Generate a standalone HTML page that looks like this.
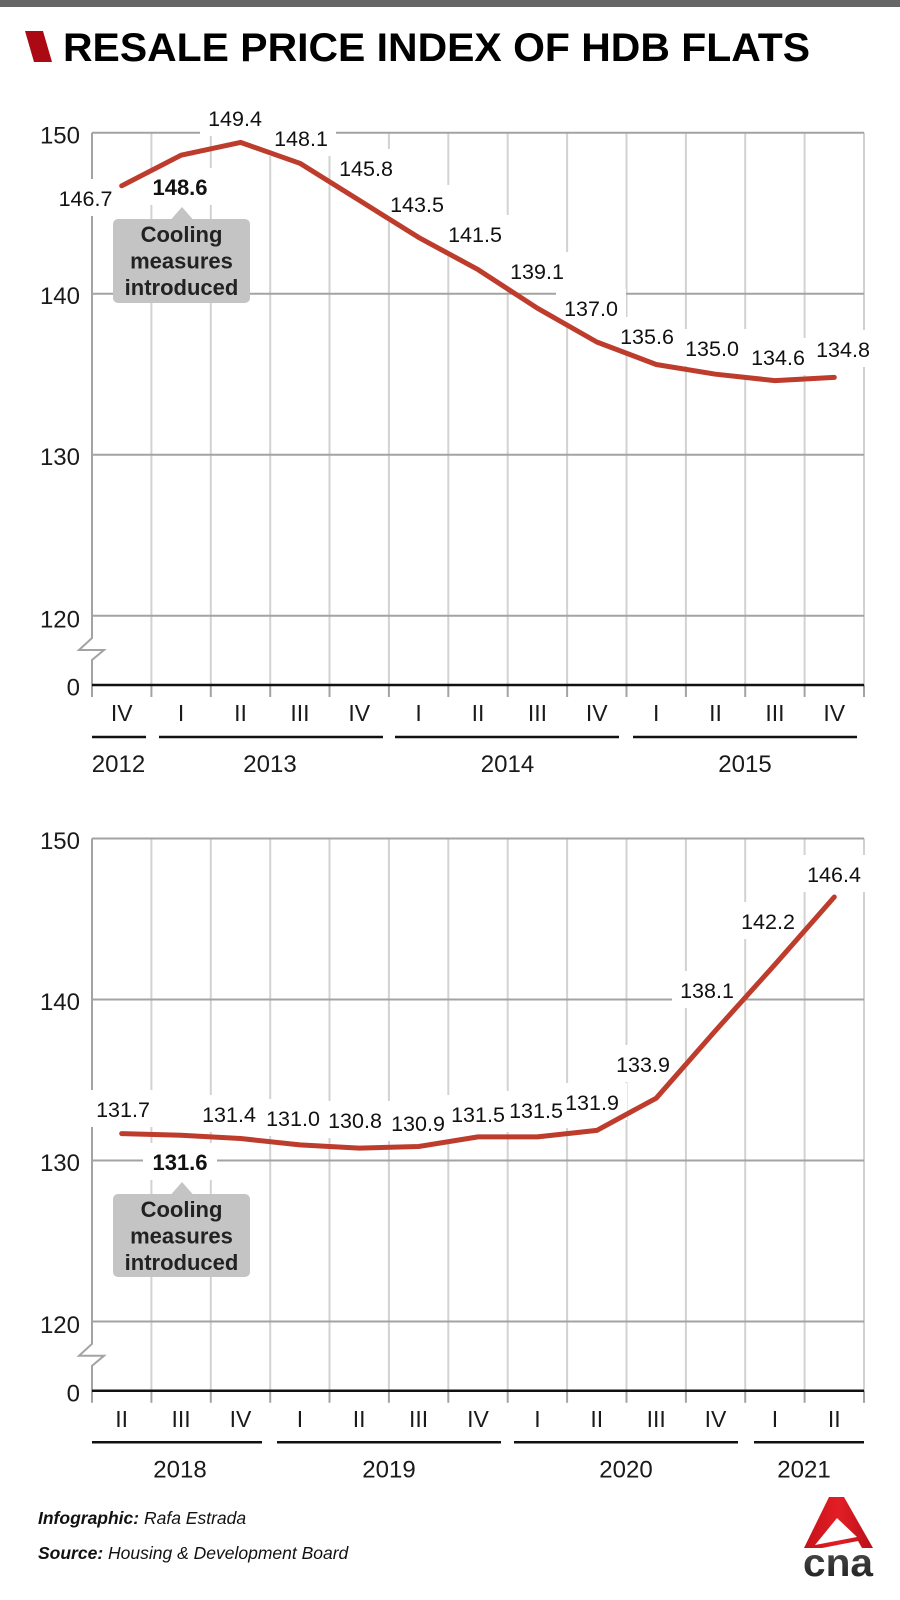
<!DOCTYPE html>
<html>
<head>
<meta charset="utf-8">
<style>
  html,body{margin:0;padding:0;background:#fff;}
  svg{display:block;}
  text{font-family:"Liberation Sans", Arial, sans-serif;}
</style>
</head>
<body>
<svg width="900" height="1600" viewBox="0 0 900 1600" xmlns="http://www.w3.org/2000/svg">
  <rect x="0" y="0" width="900" height="1600" fill="#fff"/>
  <!-- top bar -->
  <rect x="0" y="0" width="900" height="7" fill="#666"/>
  <!-- title -->
  <polygon points="25,31 43,31 52,62 34,62" fill="#ab0a14"/>
  <text x="63" y="61" font-size="40" font-weight="bold" fill="#000" textLength="747" lengthAdjust="spacingAndGlyphs">RESALE PRICE INDEX OF HDB FLATS</text>

  <!-- ================= TOP CHART ================= -->
  <g stroke="#d2d2d2" stroke-width="2">
    <line x1="151.4" y1="132.7" x2="151.4" y2="685"/>
    <line x1="210.8" y1="132.7" x2="210.8" y2="685"/>
    <line x1="270.2" y1="132.7" x2="270.2" y2="685"/>
    <line x1="329.5" y1="132.7" x2="329.5" y2="685"/>
    <line x1="388.9" y1="132.7" x2="388.9" y2="685"/>
    <line x1="448.3" y1="132.7" x2="448.3" y2="685"/>
    <line x1="507.7" y1="132.7" x2="507.7" y2="685"/>
    <line x1="567.1" y1="132.7" x2="567.1" y2="685"/>
    <line x1="626.5" y1="132.7" x2="626.5" y2="685"/>
    <line x1="685.9" y1="132.7" x2="685.9" y2="685"/>
    <line x1="745.2" y1="132.7" x2="745.2" y2="685"/>
    <line x1="804.6" y1="132.7" x2="804.6" y2="685"/>
    <line x1="864" y1="132.7" x2="864" y2="685"/>
  </g>
  <g stroke="#a3a3a3" stroke-width="2">
    <line x1="92" y1="132.7" x2="864" y2="132.7"/>
    <line x1="92" y1="293.7" x2="864" y2="293.7"/>
    <line x1="92" y1="454.7" x2="864" y2="454.7"/>
    <line x1="92" y1="615.7" x2="864" y2="615.7"/>
    <line x1="151.4" y1="685" x2="151.4" y2="697"/>
    <line x1="210.8" y1="685" x2="210.8" y2="697"/>
    <line x1="270.2" y1="685" x2="270.2" y2="697"/>
    <line x1="329.5" y1="685" x2="329.5" y2="697"/>
    <line x1="388.9" y1="685" x2="388.9" y2="697"/>
    <line x1="448.3" y1="685" x2="448.3" y2="697"/>
    <line x1="507.7" y1="685" x2="507.7" y2="697"/>
    <line x1="567.1" y1="685" x2="567.1" y2="697"/>
    <line x1="626.5" y1="685" x2="626.5" y2="697"/>
    <line x1="685.9" y1="685" x2="685.9" y2="697"/>
    <line x1="745.2" y1="685" x2="745.2" y2="697"/>
    <line x1="804.6" y1="685" x2="804.6" y2="697"/>
    <line x1="864" y1="685" x2="864" y2="697"/>
  </g>
  <path d="M92,132.7 V638 L79,650 H104 L92,660 V697" fill="none" stroke="#a3a3a3" stroke-width="2"/>
  <line x1="92" y1="685" x2="864" y2="685" stroke="#111" stroke-width="2.5"/>

  <!-- y labels top -->
  <g font-size="24" fill="#1a1a1a" text-anchor="end">
    <text x="80" y="143.3">150</text>
    <text x="80" y="304.2">140</text>
    <text x="80" y="465.2">130</text>
    <text x="80" y="627.3">120</text>
    <text x="80" y="695.5">0</text>
  </g>

  <!-- label backgrounds top -->
  <g fill="#fff">
    <rect x="50.5" y="179" width="70" height="37"/>
    <rect x="143" y="168" width="74" height="37"/>
    <rect x="200" y="99" width="70" height="37"/>
    <rect x="266" y="119" width="70" height="37"/>
    <rect x="331" y="149" width="70" height="37"/>
    <rect x="382" y="185" width="70" height="37"/>
    <rect x="440" y="215" width="70" height="37"/>
    <rect x="502" y="252" width="70" height="37"/>
    <rect x="556" y="289" width="70" height="37"/>
    <rect x="612" y="317" width="70" height="37"/>
    <rect x="677" y="329" width="70" height="37"/>
    <rect x="743" y="338" width="70" height="37"/>
    <rect x="808" y="330" width="70" height="37"/>
  </g>

  <!-- cooling box top -->
  <rect x="113" y="219" width="137" height="84" rx="5" fill="#c4c4c4"/>
  <polygon points="171,219.5 182,207 193,219.5" fill="#c4c4c4"/>
  <g font-size="22" font-weight="bold" fill="#222" text-anchor="middle">
    <text x="181.5" y="242">Cooling</text>
    <text x="181.5" y="268.5">measures</text>
    <text x="181.5" y="295">introduced</text>
  </g>

  <!-- line top -->
  <polyline fill="none" stroke="#bd3c2c" stroke-width="5" stroke-linejoin="round" stroke-linecap="round"
    points="121.7,185.8 181.1,155.2 240.5,142.4 299.9,163.3 359.2,200.3 418.6,237.4 478.0,269.6 537.4,308.2 596.8,342.0 656.2,364.5 715.5,374.2 774.9,380.6 834.3,377.4"/>

  <!-- data labels top -->
  <g font-size="21.5" fill="#111" text-anchor="middle">
    <text x="85.5" y="206">146.7</text>
    <text x="180" y="195" font-weight="bold" font-size="22">148.6</text>
    <text x="235" y="126">149.4</text>
    <text x="301" y="146">148.1</text>
    <text x="366" y="176">145.8</text>
    <text x="417" y="212">143.5</text>
    <text x="475" y="242">141.5</text>
    <text x="537" y="279">139.1</text>
    <text x="591" y="316">137.0</text>
    <text x="647" y="344">135.6</text>
    <text x="712" y="356">135.0</text>
    <text x="778" y="365">134.6</text>
    <text x="843" y="357">134.8</text>
  </g>

  <!-- quarter labels top -->
  <g font-size="23" fill="#1a1a1a" text-anchor="middle">
    <text x="121.7" y="721">IV</text>
    <text x="181.1" y="721">I</text>
    <text x="240.5" y="721">II</text>
    <text x="299.9" y="721">III</text>
    <text x="359.2" y="721">IV</text>
    <text x="418.6" y="721">I</text>
    <text x="478.0" y="721">II</text>
    <text x="537.4" y="721">III</text>
    <text x="596.8" y="721">IV</text>
    <text x="656.2" y="721">I</text>
    <text x="715.5" y="721">II</text>
    <text x="774.9" y="721">III</text>
    <text x="834.3" y="721">IV</text>
  </g>
  <g stroke="#111" stroke-width="2.5">
    <line x1="92" y1="737" x2="146" y2="737"/>
    <line x1="159" y1="737" x2="383" y2="737"/>
    <line x1="395" y1="737" x2="619" y2="737"/>
    <line x1="633" y1="737" x2="857" y2="737"/>
  </g>
  <g font-size="24" fill="#1a1a1a" text-anchor="middle">
    <text x="118.5" y="772">2012</text>
    <text x="270" y="772">2013</text>
    <text x="507.5" y="772">2014</text>
    <text x="745" y="772">2015</text>
  </g>

  <!-- ================= BOTTOM CHART ================= -->
  <g transform="translate(0,705.8)">
    <g stroke="#d2d2d2" stroke-width="2">
      <line x1="151.4" y1="132.7" x2="151.4" y2="685"/>
      <line x1="210.8" y1="132.7" x2="210.8" y2="685"/>
      <line x1="270.2" y1="132.7" x2="270.2" y2="685"/>
      <line x1="329.5" y1="132.7" x2="329.5" y2="685"/>
      <line x1="388.9" y1="132.7" x2="388.9" y2="685"/>
      <line x1="448.3" y1="132.7" x2="448.3" y2="685"/>
      <line x1="507.7" y1="132.7" x2="507.7" y2="685"/>
      <line x1="567.1" y1="132.7" x2="567.1" y2="685"/>
      <line x1="626.5" y1="132.7" x2="626.5" y2="685"/>
      <line x1="685.9" y1="132.7" x2="685.9" y2="685"/>
      <line x1="745.2" y1="132.7" x2="745.2" y2="685"/>
      <line x1="804.6" y1="132.7" x2="804.6" y2="685"/>
      <line x1="864" y1="132.7" x2="864" y2="685"/>
    </g>
    <g stroke="#a3a3a3" stroke-width="2">
      <line x1="92" y1="132.7" x2="864" y2="132.7"/>
      <line x1="92" y1="293.7" x2="864" y2="293.7"/>
      <line x1="92" y1="454.7" x2="864" y2="454.7"/>
      <line x1="92" y1="615.7" x2="864" y2="615.7"/>
      <line x1="151.4" y1="685" x2="151.4" y2="697"/>
      <line x1="210.8" y1="685" x2="210.8" y2="697"/>
      <line x1="270.2" y1="685" x2="270.2" y2="697"/>
      <line x1="329.5" y1="685" x2="329.5" y2="697"/>
      <line x1="388.9" y1="685" x2="388.9" y2="697"/>
      <line x1="448.3" y1="685" x2="448.3" y2="697"/>
      <line x1="507.7" y1="685" x2="507.7" y2="697"/>
      <line x1="567.1" y1="685" x2="567.1" y2="697"/>
      <line x1="626.5" y1="685" x2="626.5" y2="697"/>
      <line x1="685.9" y1="685" x2="685.9" y2="697"/>
      <line x1="745.2" y1="685" x2="745.2" y2="697"/>
      <line x1="804.6" y1="685" x2="804.6" y2="697"/>
      <line x1="864" y1="685" x2="864" y2="697"/>
    </g>
    <path d="M92,132.7 V638 L79,650 H104 L92,660 V697" fill="none" stroke="#a3a3a3" stroke-width="2"/>
    <line x1="92" y1="685" x2="864" y2="685" stroke="#111" stroke-width="2.5"/>
    <g font-size="24" fill="#1a1a1a" text-anchor="end">
      <text x="80" y="143.3">150</text>
      <text x="80" y="304.2">140</text>
      <text x="80" y="465.2">130</text>
      <text x="80" y="627.3">120</text>
      <text x="80" y="695.5">0</text>
    </g>
    <g font-size="23" fill="#1a1a1a" text-anchor="middle">
      <text x="121.7" y="721">II</text>
      <text x="181.1" y="721">III</text>
      <text x="240.5" y="721">IV</text>
      <text x="299.9" y="721">I</text>
      <text x="359.2" y="721">II</text>
      <text x="418.6" y="721">III</text>
      <text x="478.0" y="721">IV</text>
      <text x="537.4" y="721">I</text>
      <text x="596.8" y="721">II</text>
      <text x="656.2" y="721">III</text>
      <text x="715.5" y="721">IV</text>
      <text x="774.9" y="721">I</text>
      <text x="834.3" y="721">II</text>
    </g>
    <g stroke="#111" stroke-width="2.5">
      <line x1="92" y1="736.5" x2="262" y2="736.5"/>
      <line x1="277" y1="736.5" x2="501" y2="736.5"/>
      <line x1="514" y1="736.5" x2="738" y2="736.5"/>
      <line x1="754" y1="736.5" x2="864" y2="736.5"/>
    </g>
    <g font-size="24" fill="#1a1a1a" text-anchor="middle">
      <text x="180" y="771.5">2018</text>
      <text x="389" y="771.5">2019</text>
      <text x="626" y="771.5">2020</text>
      <text x="804" y="771.5">2021</text>
    </g>
  </g>

  <!-- label backgrounds bottom -->
  <g fill="#fff">
    <rect x="88" y="1090" width="70" height="37"/>
    <rect x="143" y="1143" width="74" height="37"/>
    <rect x="194" y="1095" width="70" height="37"/>
    <rect x="258" y="1099" width="70" height="37"/>
    <rect x="320" y="1101" width="70" height="37"/>
    <rect x="383" y="1104" width="70" height="37"/>
    <rect x="443" y="1095" width="70" height="37"/>
    <rect x="501" y="1091" width="70" height="37"/>
    <rect x="557" y="1083" width="70" height="37"/>
    <rect x="608" y="1045" width="70" height="37"/>
    <rect x="672" y="971" width="70" height="37"/>
    <rect x="733" y="902" width="70" height="37"/>
    <rect x="799" y="855" width="70" height="37"/>
  </g>

  <!-- cooling box bottom -->
  <rect x="113" y="1194" width="137" height="83" rx="5" fill="#c4c4c4"/>
  <polygon points="171,1194.5 182,1182 193,1194.5" fill="#c4c4c4"/>
  <g font-size="22" font-weight="bold" fill="#222" text-anchor="middle">
    <text x="181.5" y="1217">Cooling</text>
    <text x="181.5" y="1243.5">measures</text>
    <text x="181.5" y="1270">introduced</text>
  </g>

  <!-- line bottom -->
  <polyline fill="none" stroke="#bd3c2c" stroke-width="5" stroke-linejoin="round" stroke-linecap="round"
    points="121.7,1133.6 181.1,1135.2 240.5,1138.5 299.9,1144.9 359.2,1148.1 418.6,1146.5 478.0,1136.9 537.4,1136.9 596.8,1130.4 656.2,1098.2 715.5,1030.6 774.9,964.6 834.3,897.0"/>

  <!-- data labels bottom -->
  <g font-size="21.5" fill="#111" text-anchor="middle">
    <text x="123" y="1117">131.7</text>
    <text x="180" y="1170" font-weight="bold" font-size="22">131.6</text>
    <text x="229" y="1122">131.4</text>
    <text x="293" y="1126">131.0</text>
    <text x="355" y="1128">130.8</text>
    <text x="418" y="1131">130.9</text>
    <text x="478" y="1122">131.5</text>
    <text x="536" y="1118">131.5</text>
    <text x="592" y="1110">131.9</text>
    <text x="643" y="1072">133.9</text>
    <text x="707" y="998">138.1</text>
    <text x="768" y="929">142.2</text>
    <text x="834" y="882">146.4</text>
  </g>

  <!-- footer -->
  <text x="38" y="1524" font-size="17.5" fill="#111"><tspan font-weight="bold" font-style="italic">Infographic:</tspan><tspan font-style="italic"> Rafa Estrada</tspan></text>
  <text x="38" y="1559" font-size="17.5" fill="#111"><tspan font-weight="bold" font-style="italic">Source:</tspan><tspan font-style="italic"> Housing &amp; Development Board</tspan></text>

  <!-- CNA logo -->
  <defs>
    <linearGradient id="cnaRed" x1="0" y1="0" x2="1" y2="0">
      <stop offset="0" stop-color="#c4121a"/>
      <stop offset="0.5" stop-color="#e31e24"/>
      <stop offset="1" stop-color="#b7101a"/>
    </linearGradient>
    <linearGradient id="cnaGray" x1="0" y1="0" x2="0" y2="1">
      <stop offset="0" stop-color="#555"/>
      <stop offset="1" stop-color="#1a1a1a"/>
    </linearGradient>
  </defs>
  <polygon points="829,1497 844,1497 873,1548 804,1548" fill="url(#cnaRed)"/>
  <polygon points="837,1518 857,1537 815,1545" fill="#fff"/>
  <polygon points="822,1548 858,1541 862,1548" fill="#fff"/>
  <text x="803" y="1576" font-size="39" font-weight="bold" fill="url(#cnaGray)" textLength="70" lengthAdjust="spacingAndGlyphs">cna</text>
</svg>
</body>
</html>
